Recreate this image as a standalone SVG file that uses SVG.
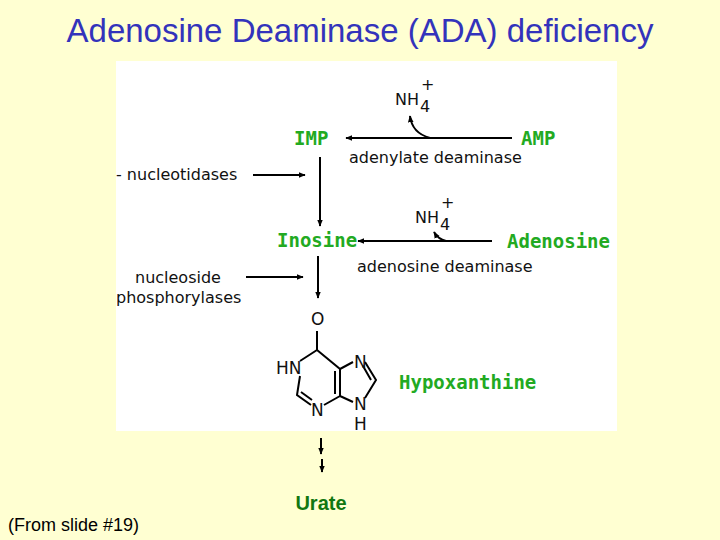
<svg xmlns="http://www.w3.org/2000/svg" width="720" height="540" viewBox="0 0 720 540">
<defs>
<marker id="ah" viewBox="0 0 10 10" refX="9" refY="5" markerWidth="7" markerHeight="7" orient="auto" markerUnits="userSpaceOnUse"><path d="M0,1 L10,5 L0,9 Z" fill="#000"/></marker>
<style>
.g{fill:#22AA22;font-family:"DejaVu Sans Mono","Liberation Mono",monospace;font-weight:bold;font-size:19px}
.k{fill:#111;font-family:"DejaVu Sans","Liberation Sans",sans-serif;font-size:16px}
.c{stroke:#000;stroke-width:2;fill:none}
.ch{fill:#111;font-family:"DejaVu Sans","Liberation Sans",sans-serif;font-size:17px}
</style>
</defs>
<rect width="720" height="540" fill="#FFFFD2"/>
<rect x="116" y="61" width="501" height="370" fill="#FFFFFF"/>
<text x="360" y="42" text-anchor="middle" font-family="Liberation Sans, sans-serif" font-size="33" fill="#3333BB">Adenosine Deaminase (ADA) deficiency</text>
<g id="connectors">
<line class="c" x1="512" y1="138" x2="346" y2="138" marker-end="url(#ah)"/>
<path class="c" d="M430,138 Q412,133 410,116" marker-end="url(#ah)"/>
<line class="c" x1="492" y1="241" x2="358" y2="241" marker-end="url(#ah)"/>
<path class="c" d="M446,241 Q438,239 434,232" marker-end="url(#ah)"/>
<line class="c" x1="320" y1="157" x2="320" y2="226" marker-end="url(#ah)"/>
<line class="c" x1="253" y1="175" x2="305" y2="175" marker-end="url(#ah)"/>
<line class="c" x1="318" y1="256" x2="318" y2="298" marker-end="url(#ah)"/>
<line class="c" x1="246" y1="277" x2="303" y2="277" marker-end="url(#ah)"/>
<line class="c" x1="321" y1="438" x2="321" y2="454" marker-end="url(#ah)"/>
<line class="c" x1="322" y1="459" x2="322" y2="472" marker-end="url(#ah)"/>
</g>
<g id="IMP"><text class="g" x="294" y="145">IMP</text></g>
<g id="AMP"><text class="g" x="521" y="145">AMP</text></g>
<g id="Inosine"><text class="g" x="277" y="247">Inosine</text></g>
<g id="Adenosine"><text class="g" x="507" y="248">Adenosine</text></g>
<g id="Hypoxanthine"><text class="g" x="399" y="389">Hypoxanthine</text></g>
<g id="labels">
<text class="k" x="395" y="105">NH</text><text class="k" x="420" y="112" font-size="12">4</text><text class="k" x="421" y="90" font-size="12">+</text>
<text class="k" x="415" y="223">NH</text><text class="k" x="440" y="230" font-size="12">4</text><text class="k" x="441" y="208" font-size="12">+</text>
<text class="k" x="349" y="163">adenylate deaminase</text>
<text class="k" x="357" y="272">adenosine deaminase</text>
<text class="k" x="116" y="180">- nucleotidases</text>
<text class="k" x="135" y="283">nucleoside</text>
<text class="k" x="116" y="303">phosphorylases</text>
</g>
<g id="structure">
<text class="ch" x="311" y="325">O</text>
<line class="c" x1="317" y1="331" x2="317" y2="350" stroke-width="1.5"/>
<path class="c" stroke-width="1.5" d="M317,350 L300,361 M300,376 L297,395 L311,405 M301,392 L312,400 M324,405 L340,396 L340,369 L317,350 M335,371 L335,394 M340,369 L353,362 M340,396 L353,402 M365,362 L376,380 L365,398 M363,366 L371,380"/>
<text class="ch" x="276" y="374">HN</text>
<text class="ch" x="311" y="416">N</text>
<text class="ch" x="354" y="368">N</text>
<text class="ch" x="354" y="410">N</text>
<text class="ch" x="354" y="430">H</text>
</g>
<g id="Urate"><text x="321" y="510" text-anchor="middle" font-family="Liberation Sans, sans-serif" font-weight="bold" font-size="20" fill="#117711">Urate</text></g>
<text x="8" y="531" font-family="Liberation Sans, sans-serif" font-size="18" fill="#000">(From slide #19)</text>
</svg>
